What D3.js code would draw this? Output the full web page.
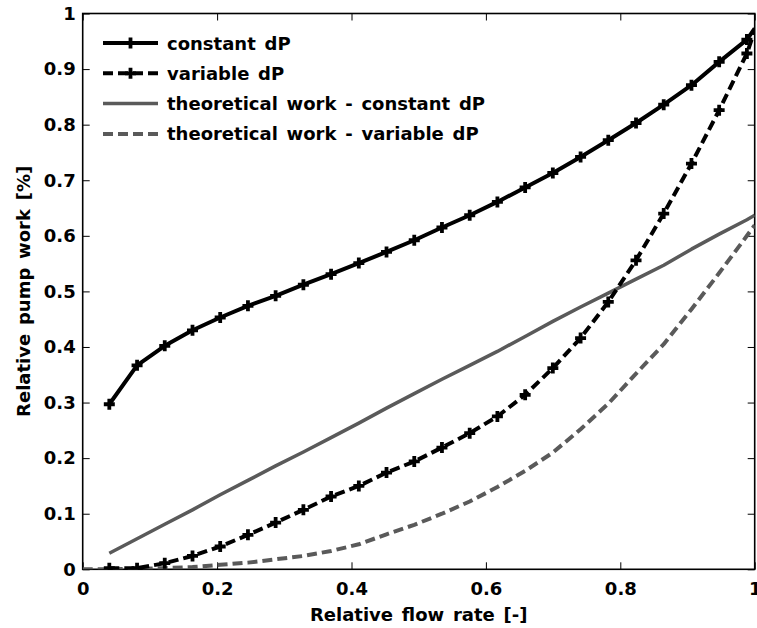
<!DOCTYPE html>
<html>
<head>
<meta charset="utf-8">
<script src="https://cdn.jsdelivr.net/npm/d3@7"></script>
<style>
  html, body { margin: 0; padding: 0; background: #fff; }
  svg { display: block; font-family: "DejaVu Sans", Arial, sans-serif; font-weight: bold; }
  .label { word-spacing: 2.5px; }
</style>
</head>
<body>
<svg id="chart" width="757" height="628"></svg>
<script>
// Relative flow rate samples shared by the pump curves
const flowRate = [0.0396, 0.0809, 0.1221, 0.1634, 0.2046, 0.2459, 0.2871, 0.3284,
  0.3696, 0.4109, 0.4521, 0.4934, 0.5346, 0.5759, 0.6171, 0.6584, 0.6996, 0.7409,
  0.7821, 0.8234, 0.8646, 0.9059, 0.9471, 0.9884, 1.0];

// Relative pump work, constant differential pressure control
const constantDP = [0.297, 0.367, 0.402, 0.430, 0.453, 0.474, 0.492, 0.512, 0.531,
  0.551, 0.571, 0.592, 0.615, 0.637, 0.661, 0.687, 0.713, 0.742, 0.772, 0.803,
  0.836, 0.871, 0.913, 0.953, 0.973];

// Relative pump work, variable differential pressure control
const variableDP = [0.002, 0.002, 0.011, 0.024, 0.041, 0.062, 0.084, 0.107, 0.131,
  0.150, 0.174, 0.194, 0.219, 0.245, 0.275, 0.314, 0.362, 0.416, 0.481, 0.556,
  0.640, 0.730, 0.826, 0.928, 0.970];

// Theoretical work, constant dP
const theoryConstant = [0.029, 0.055, 0.081, 0.107, 0.134, 0.160, 0.186, 0.211, 0.237,
  0.263, 0.290, 0.316, 0.342, 0.367, 0.392, 0.419, 0.446, 0.472, 0.497, 0.522,
  0.547, 0.576, 0.603, 0.629, 0.637];

// Theoretical work, variable dP (curve starts at the origin)
const theoryFlow = [0].concat(flowRate);
const theoryVariable = [0, 0.000, 0.001, 0.002, 0.004, 0.008, 0.012, 0.018, 0.024, 0.033,
  0.045, 0.063, 0.080, 0.100, 0.122, 0.148, 0.177, 0.210, 0.252, 0.298, 0.352,
  0.405, 0.468, 0.533, 0.600, 0.619];

const xTicks = [0, 0.2, 0.4, 0.6, 0.8, 1];
const yTicks = [0, 0.1, 0.2, 0.3, 0.4, 0.5, 0.6, 0.7, 0.8, 0.9, 1];

const seriesNames = ["constant dP", "variable dP",
  "theoretical work - constant dP", "theoretical work - variable dP"];

const grey = "#5a5a5a";
const fontSize = "18px";
const svg = d3.select("#chart");

const x = d3.scaleLinear().domain([0, 1]).range([82.7, 754.7]);
const y = d3.scaleLinear().domain([0, 1]).range([569.3, 13.5]);

const [x0, x1] = x.range();
const [y0, y1] = y.range();

svg.append("defs").append("clipPath").attr("id", "plot-clip")
  .append("rect").attr("x", x0).attr("y", y1 - 6).attr("width", x1 - x0).attr("height", y0 - y1 + 6);

const fmt = d3.format("~g");
const tickLen = 7;

// Axes with inward ticks on all four sides
const axisStyle = g => {
  g.select(".domain").remove();
  g.selectAll(".tick line").attr("stroke", "#000").attr("stroke-width", 1);
  g.selectAll(".tick text").attr("fill", "#000").style("font-size", fontSize)
    .style("font-family", "'DejaVu Sans', Arial, sans-serif").style("font-weight", "bold");
};

svg.append("g").attr("transform", `translate(0,${y0})`)
  .call(d3.axisBottom(x).tickValues(xTicks).tickFormat(fmt).tickSizeInner(-tickLen).tickSizeOuter(0).tickPadding(13))
  .call(axisStyle);
svg.append("g").attr("transform", `translate(0,${y1})`)
  .call(d3.axisTop(x).tickValues(xTicks).tickFormat("").tickSizeInner(-tickLen).tickSizeOuter(0))
  .call(axisStyle);
svg.append("g").attr("transform", `translate(${x0},0)`)
  .call(d3.axisLeft(y).tickValues(yTicks).tickFormat(fmt).tickSizeInner(-tickLen).tickSizeOuter(0).tickPadding(7))
  .call(axisStyle);
svg.append("g").attr("transform", `translate(${x1},0)`)
  .call(d3.axisRight(y).tickValues(yTicks).tickFormat("").tickSizeInner(-tickLen).tickSizeOuter(0))
  .call(axisStyle);

// Frame
svg.append("rect").attr("x", x0).attr("y", y1).attr("width", x1 - x0).attr("height", y0 - y1)
  .attr("fill", "none").attr("stroke", "#000").attr("stroke-width", 1.6);

// Axis titles
svg.append("text").attr("class", "label").attr("x", (x0 + x1) / 2).attr("y", 621).attr("text-anchor", "middle")
  .style("font-size", fontSize).text("Relative flow rate [-]");
svg.append("text").attr("class", "label").attr("transform", `translate(30,${(y0 + y1) / 2}) rotate(-90)`)
  .attr("text-anchor", "middle").style("font-size", fontSize).text("Relative pump work [%]");

const line = d3.line().x(d => x(d[0])).y(d => y(d[1]));
const plot = svg.append("g").attr("clip-path", "url(#plot-clip)");

const zipPts = (xs, ys) => xs.map((v, i) => [v, ys[i]]);

const series = [
  { name: seriesNames[0], pts: zipPts(flowRate, constantDP), color: "#000", width: 4, dash: null, markers: true },
  { name: seriesNames[1], pts: zipPts(flowRate, variableDP), color: "#000", width: 4, dash: "10,5", markers: true },
  { name: seriesNames[2], pts: zipPts(flowRate, theoryConstant), color: grey, width: 3.5, dash: null, markers: false },
  { name: seriesNames[3], pts: zipPts(theoryFlow, theoryVariable), color: grey, width: 4, dash: "10,5", markers: false }
];

const plusPath = s => `M${-s},0H${s}M0,${-s}V${s}`;

// Draw grey theoretical curves first, then measured curves above them
[series[3], series[2], series[0], series[1]].forEach(s => {
  plot.append("path").datum(s.pts).attr("d", line)
    .attr("fill", "none").attr("stroke", s.color).attr("stroke-width", s.width)
    .attr("stroke-dasharray", s.dash).attr("stroke-linejoin", "round");
  if (s.markers) {
    plot.append("g").selectAll("path").data(s.pts.slice(0, -1)).join("path")
      .attr("transform", d => `translate(${x(d[0])},${y(d[1])})`)
      .attr("d", plusPath(5.5)).attr("stroke", s.color).attr("stroke-width", 3.8).attr("fill", "none");
  }
});

// Legend
const legend = svg.append("g");
const lx0 = 103, lx1 = 158, ly = 43, lstep = 30.3;
series.forEach((s, i) => {
  const yy = ly + i * lstep;
  legend.append("line").attr("x1", lx0).attr("x2", lx1).attr("y1", yy).attr("y2", yy)
    .attr("stroke", s.color).attr("stroke-width", s.width).attr("stroke-dasharray", s.dash);
  if (s.markers) {
    legend.append("path").attr("transform", `translate(${(lx0 + lx1) / 2},${yy})`)
      .attr("d", plusPath(5.5)).attr("stroke", s.color).attr("stroke-width", 3.8);
  }
  legend.append("text").attr("class", "label").attr("x", 167).attr("y", yy + 6.5)
    .style("font-size", fontSize).text(s.name);
});
</script>
</body>
</html>
